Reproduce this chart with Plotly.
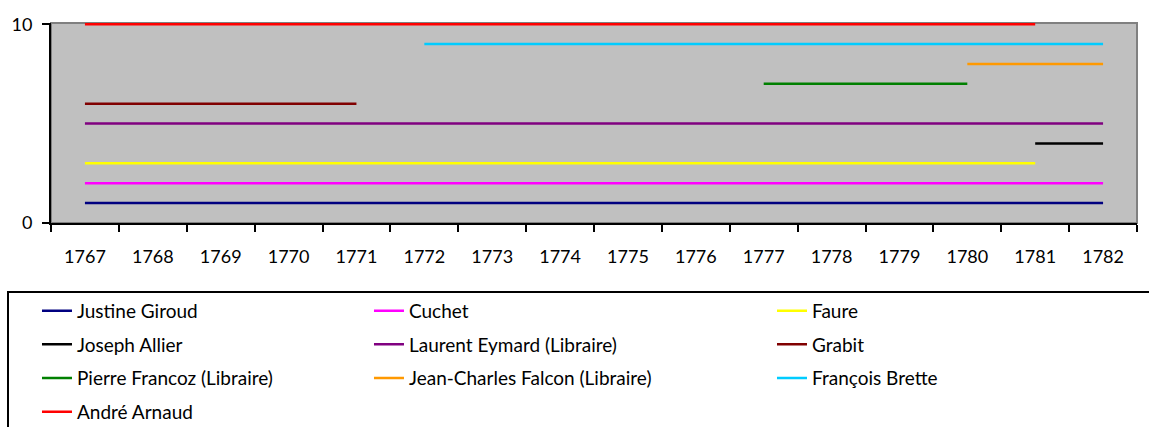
import plotly.graph_objects as go

N = None
years = ["1767", "1768", "1769", "1770", "1771", "1772", "1773", "1774",
         "1775", "1776", "1777", "1778", "1779", "1780", "1781", "1782"]

justine_giroud = [1, 1, 1, 1, 1, 1, 1, 1, 1, 1, 1, 1, 1, 1, 1, 1]
cuchet = [2, 2, 2, 2, 2, 2, 2, 2, 2, 2, 2, 2, 2, 2, 2, 2]
faure = [3, 3, 3, 3, 3, 3, 3, 3, 3, 3, 3, 3, 3, 3, 3, N]
joseph_allier = [N, N, N, N, N, N, N, N, N, N, N, N, N, N, 4, 4]
laurent_eymard = [5, 5, 5, 5, 5, 5, 5, 5, 5, 5, 5, 5, 5, 5, 5, 5]
grabit = [6, 6, 6, 6, 6, N, N, N, N, N, N, N, N, N, N, N]
pierre_francoz = [N, N, N, N, N, N, N, N, N, N, 7, 7, 7, 7, N, N]
jean_charles_falcon = [N, N, N, N, N, N, N, N, N, N, N, N, N, 8, 8, 8]
francois_brette = [N, N, N, N, N, 9, 9, 9, 9, 9, 9, 9, 9, 9, 9, 9]
andre_arnaud = [10, 10, 10, 10, 10, 10, 10, 10, 10, 10, 10, 10, 10, 10, 10, N]

series = [
    ("Justine Giroud", justine_giroud, "#000080", "legend"),
    ("Cuchet", cuchet, "#FF00FF", "legend2"),
    ("Faure", faure, "#FFFF00", "legend3"),
    ("Joseph Allier", joseph_allier, "#000000", "legend"),
    ("Laurent Eymard (Libraire)", laurent_eymard, "#800080", "legend2"),
    ("Grabit", grabit, "#800000", "legend3"),
    ("Pierre Francoz (Libraire)", pierre_francoz, "#008000", "legend"),
    ("Jean-Charles Falcon (Libraire)", jean_charles_falcon, "#FF9900", "legend2"),
    ("François Brette", francois_brette, "#00CCFF", "legend3"),
    ("André Arnaud", andre_arnaud, "#FF0000", "legend"),
]

FONT = "Lato"
fig = go.Figure()
for name, vals, color, leg in series:
    fig.add_trace(go.Scatter(
        x=years, y=vals, name=name, mode="lines",
        line=dict(color=color, width=2.5),
        connectgaps=False, legend=leg, legendgroup=name,
    ))

legend_common = dict(
    orientation="v", xanchor="left", yanchor="top",
    font=dict(family=FONT, size=19, color="black"),
    bgcolor="rgba(0,0,0,0)", traceorder="grouped", tracegroupgap=6,
    borderwidth=0,
)
y_leg = -0.344
fig.update_layout(
    width=1149, height=427,
    margin=dict(l=51, r=12, t=23, b=204, autoexpand=False),
    paper_bgcolor="white",
    plot_bgcolor="#C0C0C0",
    font=dict(family=FONT, size=18, color="black"),
    showlegend=True,
    hovermode=False,
    legend=dict(x=-0.0129, y=y_leg, **legend_common),
    legend2=dict(x=0.2928, y=y_leg, **legend_common),
    legend3=dict(x=0.6639, y=y_leg, **legend_common),
    xaxis=dict(
        type="category", tickson="boundaries", ticks="outside",
        ticklen=7, tickwidth=2, tickcolor="black",
        showline=True, linecolor="black", linewidth=2,
        showgrid=False, zeroline=False, range=[-0.5, 15.5],
        ticklabelstandoff=16, automargin=False,
        tickfont=dict(family=FONT, size=18, color="black"),
    ),
    yaxis=dict(
        range=[0, 10.06], tickvals=[0, 10], ticktext=["0", "10"],
        ticks="outside", ticklen=7, tickwidth=2, tickcolor="black",
        showline=True, linecolor="black", linewidth=2,
        showgrid=False, zeroline=False, ticklabelstandoff=6, automargin=False,
        tickfont=dict(family=FONT, size=18, color="black"),
    ),
    shapes=[
        dict(type="rect", xref="x domain", yref="y domain", x0=0, x1=1, y0=0, y1=1,
             line=dict(color="#808080", width=2), layer="below"),
        dict(type="rect", xref="paper", yref="paper",
             x0=(8 - 51) / 1086, x1=1.05, y0=(223 - 292) / 200.3, y1=-1.2,
             line=dict(color="black", width=2), fillcolor="rgba(0,0,0,0)"),
    ],
)

fig.write_html("out.html", config={"displayModeBar": False},
               post_script="document.body.style.margin='0';document.body.style.overflow='hidden';")
